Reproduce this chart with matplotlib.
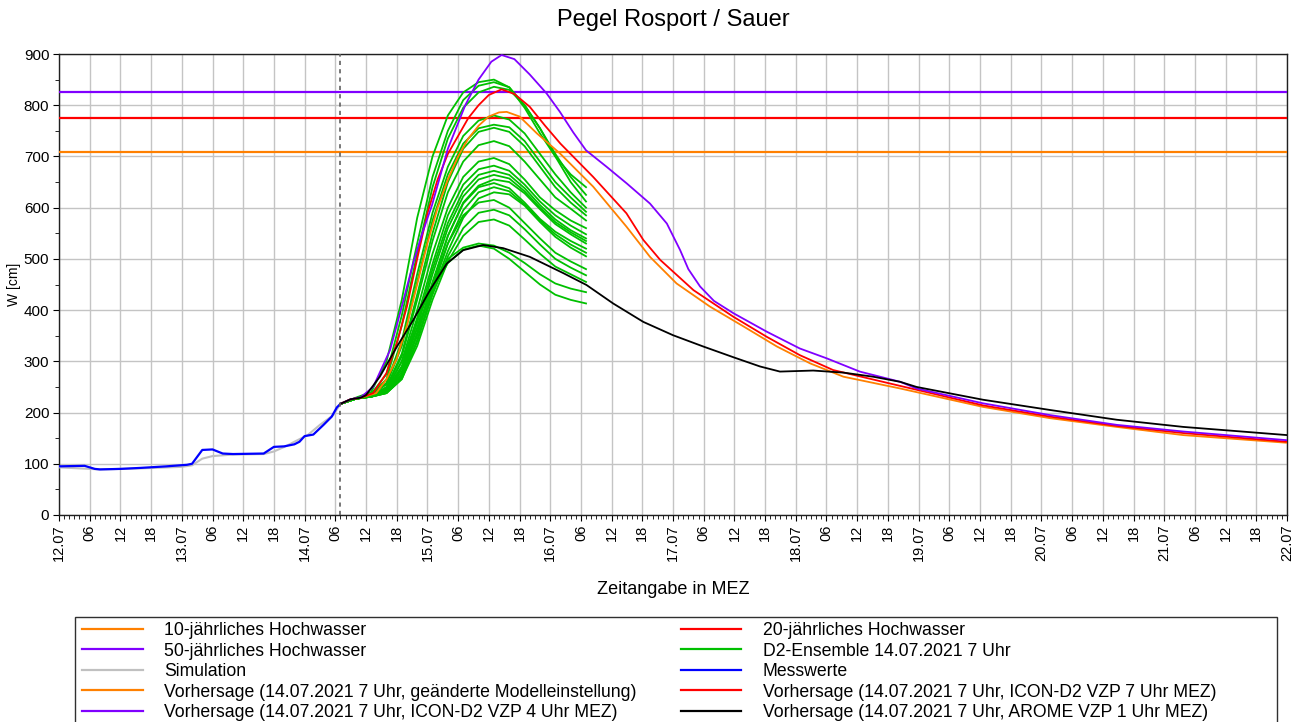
import numpy as np
import matplotlib.pyplot as plt
from matplotlib.ticker import MultipleLocator
from matplotlib.patches import Rectangle

plt.rcParams['font.family'] = ['Liberation Sans', 'DejaVu Sans']

# Zeit in Stunden ab 12.07.2021 00:00 MEZ
hw10 = 709
hw20 = 776
hw50 = 825

t_mess = [0, 5, 7, 8, 12, 16, 21, 25, 26, 28, 30, 32, 34, 40, 42, 44, 46, 47, 48, 49.7, 51.7, 53.3, 54.3, 55]
v_mess = [95, 96, 90, 89, 90, 92, 95, 98, 100, 127, 128, 120, 119, 120, 133, 134, 138, 143, 154, 157, 176, 192, 210, 217]

t_sim = [0, 8, 16, 24, 26, 28, 30, 34, 40, 42, 44.5, 46, 48.6, 51, 53.6, 55]
v_sim = [93, 89, 91, 94, 97, 110, 115, 118, 119, 124, 135, 143, 156, 176, 195, 217]

t_arome = [55, 57, 59, 60, 62.7, 66, 69.2, 72.5, 75.8, 79, 82.9, 86.8, 92, 98.6, 103.1, 108.3, 114.2,
           120, 125.9, 131.8, 137, 140.9, 147.4, 153.3, 159.1, 164.4, 167.6, 180.6, 193.7, 206.7, 219.7, 240]
v_arome = [217, 226, 229, 234, 270, 328, 380, 439, 491, 517, 527, 521, 504, 472, 449, 413, 377,
           351, 329, 308, 290, 280, 282, 278, 270, 260, 250, 225, 205, 186, 172, 156]

t_vzp4 = [55, 57, 59, 61.4, 64.7, 67, 69.2, 71, 72.9, 76, 79.4, 82, 84.5, 86.5, 89, 92, 95.3, 97.9, 100.5, 103,
          107, 111, 115.5, 118.8, 121.4, 123, 125.3, 128, 131.8, 138.3, 144.8, 150, 156.5, 164.4,
          167.6, 180.6, 193.7, 206.7, 219.7, 240]
v_vzp4 = [217, 226, 230, 250, 322, 407, 491, 550, 605, 715, 800, 850, 885, 898, 890, 860, 823, 787, 747, 712,
          680, 647, 608, 569, 517, 480, 446, 418, 394, 358, 325, 306, 280, 260,
          247, 218, 195, 176, 163, 146]

t_vzp7 = [55, 57, 59, 61.4, 64, 66, 68, 70, 72, 74, 76, 78, 80, 82, 84, 86.5, 89, 92, 95, 98,
          104.4, 110.9, 114.2, 117.5, 124, 131.8, 138.3, 144.8, 151.3, 164.4, 180.6, 193.7, 206.7, 219.7, 240]
v_vzp7 = [217, 226, 229, 238, 277, 335, 407, 500, 589, 655, 705, 740, 775, 800, 820, 831, 822, 797, 760, 725,
          660, 589, 537, 498, 439, 387, 348, 312, 283, 252, 214, 192, 174, 160, 143]

t_mod = [55, 57, 59, 62, 64, 66, 68, 70, 72, 74, 76, 78, 80, 82, 84, 86, 87.5, 90, 93.4, 97.9,
         104.4, 110.9, 115.5, 120.7, 127.2, 133.8, 140.3, 146.8, 153.3, 164.4, 180.6, 193.7, 206.7, 219.7, 240]
v_mod = [217, 226, 229, 238, 265, 305, 370, 450, 530, 600, 655, 700, 735, 760, 778, 786, 787, 778, 745, 706,
         641, 563, 504, 452, 407, 368, 329, 296, 270, 247, 211, 189, 172, 156, 141]

# D2-Ensemble (20 Member), 14.07. 07 Uhr bis 16.07. 07 Uhr
t_ens = [55, 58, 61, 64, 67, 70, 73, 76, 79, 82, 85, 88, 91, 94, 97, 100, 103]
ens = [
    [217, 229, 240, 300, 420, 580, 700, 780, 825, 845, 850, 835, 795, 745, 700, 665, 640],
    [217, 228, 236, 275, 390, 530, 660, 750, 810, 838, 845, 835, 800, 755, 705, 660, 625],
    [217, 228, 235, 265, 370, 510, 640, 735, 795, 825, 836, 830, 800, 755, 700, 650, 612],
    [217, 228, 234, 258, 340, 470, 590, 680, 740, 770, 780, 772, 745, 705, 665, 630, 600],
    [217, 228, 234, 255, 330, 455, 575, 665, 725, 755, 762, 757, 730, 690, 650, 620, 592],
    [217, 227, 233, 250, 315, 430, 550, 650, 715, 748, 756, 748, 720, 680, 640, 610, 585],
    [217, 227, 233, 248, 310, 420, 535, 630, 690, 722, 730, 720, 690, 655, 620, 598, 575],
    [217, 227, 232, 245, 300, 400, 510, 600, 660, 690, 697, 685, 655, 620, 595, 575, 560],
    [217, 227, 232, 244, 290, 385, 490, 585, 645, 675, 682, 672, 645, 612, 585, 565, 548],
    [217, 227, 232, 242, 285, 375, 480, 570, 632, 664, 672, 664, 638, 605, 577, 556, 540],
    [217, 227, 232, 242, 280, 365, 470, 560, 622, 655, 664, 657, 632, 600, 572, 552, 535],
    [217, 227, 231, 240, 275, 355, 455, 545, 610, 643, 655, 650, 628, 597, 568, 548, 530],
    [217, 227, 231, 240, 272, 350, 450, 545, 608, 640, 648, 638, 610, 578, 553, 535, 520],
    [217, 227, 231, 239, 268, 340, 440, 530, 595, 630, 640, 632, 606, 575, 548, 528, 512],
    [217, 227, 231, 238, 265, 340, 435, 515, 580, 618, 630, 626, 604, 572, 543, 522, 505],
    [217, 227, 231, 240, 275, 355, 450, 530, 585, 610, 615, 600, 570, 540, 512, 495, 480],
    [217, 227, 231, 238, 268, 340, 430, 505, 560, 590, 596, 585, 558, 528, 500, 483, 468],
    [217, 227, 231, 238, 266, 330, 420, 495, 545, 572, 577, 565, 538, 510, 485, 470, 455],
    [217, 227, 232, 245, 300, 380, 450, 500, 522, 530, 526, 512, 492, 470, 452, 442, 435],
    [217, 227, 232, 242, 290, 365, 440, 492, 518, 526, 520, 500, 475, 450, 430, 420, 413],
]

t_vorhersage = 55  # 14.07. 07 Uhr
days = ['12.07', '13.07', '14.07', '15.07', '16.07', '17.07', '18.07', '19.07', '20.07', '21.07', '22.07']

c_orange = '#ff8000'
c_red = '#ff0000'
c_purple = '#8000ff'
c_green = '#00c000'
c_blue = '#0000ff'
c_gray = '#c0c0c0'

fig = plt.figure(figsize=(13.02, 7.22), dpi=100)
ax = fig.add_axes([59 / 1302, 1 - 515 / 722, 1228 / 1302, 461 / 722])

ax.axhline(hw10, color=c_orange, lw=1.6, zorder=3)
ax.axhline(hw20, color=c_red, lw=1.6, zorder=3)
ax.axhline(hw50, color=c_purple, lw=1.6, zorder=3)

for m in ens:
    ax.plot(t_ens, m, color=c_green, lw=1.3, zorder=4)
ax.plot(t_sim, v_sim, color=c_gray, lw=1.5, zorder=4)
ax.plot(t_mess, v_mess, color=c_blue, lw=1.6, zorder=5)
ax.plot(t_mod, v_mod, color=c_orange, lw=1.3, zorder=5)
ax.plot(t_vzp7, v_vzp7, color=c_red, lw=1.3, zorder=5)
ax.plot(t_vzp4, v_vzp4, color=c_purple, lw=1.3, zorder=5)
ax.plot(t_arome, v_arome, color='black', lw=1.3, zorder=5)

ax.axvline(t_vorhersage, color='#606060', lw=1.2, ls=(0, (2.5, 2.5)), zorder=6)

ax.set_xlim(0, 240)
ax.set_ylim(0, 900)
ticks = np.arange(0, 241, 6)
labels = []
for h in ticks:
    if h % 24 == 0:
        labels.append(days[h // 24])
    else:
        labels.append('%02d' % (h % 24))
ax.set_xticks(ticks)
ax.set_xticklabels(labels, rotation=90)
ax.xaxis.set_minor_locator(MultipleLocator(1))
ax.yaxis.set_major_locator(MultipleLocator(100))
ax.yaxis.set_minor_locator(MultipleLocator(50))
ax.tick_params(which='both', direction='out', color='black', pad=3)
ax.tick_params(axis='x', labelsize=10.5)
ax.tick_params(axis='y', labelsize=11)
ax.tick_params(which='major', length=4)
ax.tick_params(which='minor', length=3)
ax.grid(True, which='major', color='#c4c4c4', lw=1.0, zorder=0)
for s in ax.spines.values():
    s.set_color('#202020')
    s.set_linewidth(1.0)

ax.set_title('Pegel Rosport / Sauer', fontsize=17, pad=20)
ax.set_xlabel('Zeitangabe in MEZ', fontsize=13, labelpad=14)
ax.set_ylabel('W [cm]', fontsize=10, labelpad=2)

h = lambda c: plt.Line2D([], [], color=c, lw=1.6)
handles = [h(c_orange), h(c_purple), h(c_gray), h(c_orange), h(c_purple),
           h(c_red), h(c_green), h(c_blue), h(c_red), h('black')]
names = ['10-jährliches Hochwasser', '50-jährliches Hochwasser', 'Simulation',
         'Vorhersage (14.07.2021 7 Uhr, geänderte Modelleinstellung)',
         'Vorhersage (14.07.2021 7 Uhr, ICON-D2 VZP 4 Uhr MEZ)',
         '20-jährliches Hochwasser', 'D2-Ensemble 14.07.2021 7 Uhr', 'Messwerte',
         'Vorhersage (14.07.2021 7 Uhr, ICON-D2 VZP 7 Uhr MEZ)',
         'Vorhersage (14.07.2021 7 Uhr, AROME VZP 1 Uhr MEZ)']
leg = fig.legend(handles, names, ncol=2, loc='upper left',
                 bbox_to_anchor=(82 / 1302, 1 - 622 / 722),
                 fontsize=12.7, frameon=False,
                 handlelength=3.45, handletextpad=1.2, labelspacing=0.2, borderpad=0,
                 borderaxespad=0, columnspacing=2.5)

fig.patches.append(Rectangle((75 / 1302, -0.02), 1202 / 1302, (722 - 617) / 722 + 0.02,
                             transform=fig.transFigure, fill=False, ec='#303030', lw=1.0))

fig.savefig('out.png', dpi=100)
